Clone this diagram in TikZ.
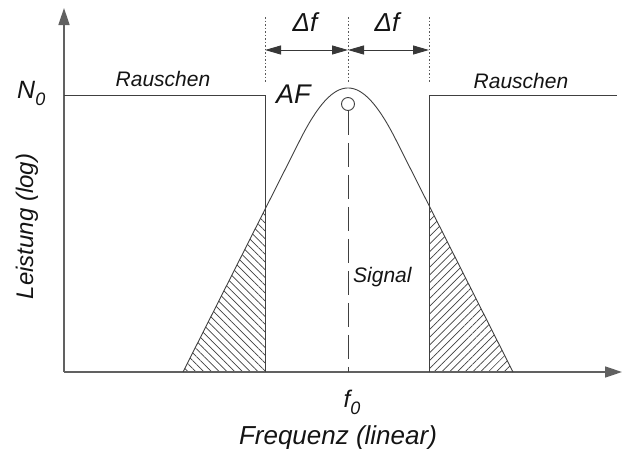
\documentclass[tikz,border=0pt]{standalone}
\usepackage{fontspec}
\setmainfont{Liberation Sans}
\usetikzlibrary{arrows.meta,patterns.meta}
\begin{document}
\begin{tikzpicture}[x=1pt,y=-1pt,
  lbl/.style={inner sep=0pt,text=black!92,font=\itshape\fontsize{#1}{#1}\selectfont},
  lbl/.default=21,
  ln/.style={draw=black!75,line width=0.9pt},
  axisline/.style={draw=black!62,line width=1.6pt,-{Triangle[length=17pt,width=11pt]}},
  dimline/.style={draw=black!78,line width=0.9pt,{Triangle[length=16pt,width=9pt]}-{Triangle[length=16pt,width=9pt]}},
  guide/.style={draw=black!65,line width=0.9pt,dash pattern=on 1.5pt off 2pt},
  hatch/.style={pattern={Lines[angle=#1,distance=5.5pt,line width=0.7pt]},pattern color=black!75},
]
\useasboundingbox (0,0) rectangle (632,448);
% hatched regions
\fill[hatch=-45] (183,372) -- (265,209.4) -- (265,372) -- cycle;
\fill[hatch=45] (429,205.4) -- (513,372) -- (429,372) -- cycle;
% axes
\coordinate (O) at (64,372);
\coordinate (ytop) at (64,8);
\coordinate (xend) at (622,372);
\draw[axisline] (O) -- (ytop);
\draw[axisline] (O) -- (xend);
% noise levels
\coordinate (nl0) at (64,95);
\coordinate (nl1) at (265,95);
\coordinate (nl2) at (265,372);
\coordinate (nr0) at (429,372);
\coordinate (nr1) at (429,95);
\coordinate (nr2) at (617,95);
\draw[ln] (nl0) -- (nl1) -- (nl2);
\draw[ln] (nr0) -- (nr1) -- (nr2);
% signal curve
\coordinate (cl) at (183,372);
\coordinate (cs1) at (300,140);
\coordinate (cs2) at (396,140);
\coordinate (cr) at (513,372);
\draw[ln] (cl) -- (cs1) .. controls (335,70.6) and (361,70.6) .. (cs2) -- (cr);
% centre marker and dashed line
\node[circle,draw=black!75,line width=0.9pt,minimum size=13pt,inner sep=0pt,fill=white] (sig) at (348,104) {};
\coordinate (f0pt) at (348,372);
\draw[ln,dash pattern=on 24pt off 8pt] (sig.south) -- (f0pt);
% guides
\coordinate (g1t) at (265,17); \coordinate (g1b) at (265,82);
\coordinate (g2t) at (348,17); \coordinate (g2b) at (348,82);
\coordinate (g3t) at (429,17); \coordinate (g3b) at (429,82);
\draw[guide] (g1t) -- (g1b);
\draw[guide] (g2t) -- (g2b);
\draw[guide] (g3t) -- (g3b);
\coordinate (d1) at (265,50); \coordinate (d2) at (348,50); \coordinate (d3) at (429,50);
\draw[dimline] (d1) -- (d2);
\draw[dimline] (d2) -- (d3);
% labels
\node[lbl=26,anchor=base] (df1) at (305,31) {Δf};
\node[lbl=26,anchor=base] (df2) at (387,31) {Δf};
\node[lbl=21,anchor=base] (r1) at (163,86) {Rauschen};
\node[lbl=21,anchor=base] (r2) at (521,88) {Rauschen};
\node[lbl=25,anchor=base west] (n0) at (17,98) {N\raisebox{-0.3em}{\fontsize{18}{18}\selectfont 0}};
\node[lbl=27,anchor=base west] (af) at (276,103) {AF};
\node[lbl=21,anchor=base west] (sg) at (353,282) {Signal};
\node[lbl=24,anchor=base] (f0) at (352,407) {f\raisebox{-0.3em}{\fontsize{18}{18}\selectfont 0}};
\node[lbl=26,anchor=base] (fx) at (338,444) {Frequenz (linear)};
\node[lbl=24,anchor=base,rotate=90] (ly) at (33,226.5) {Leistung (log)};
\end{tikzpicture}
\end{document}
